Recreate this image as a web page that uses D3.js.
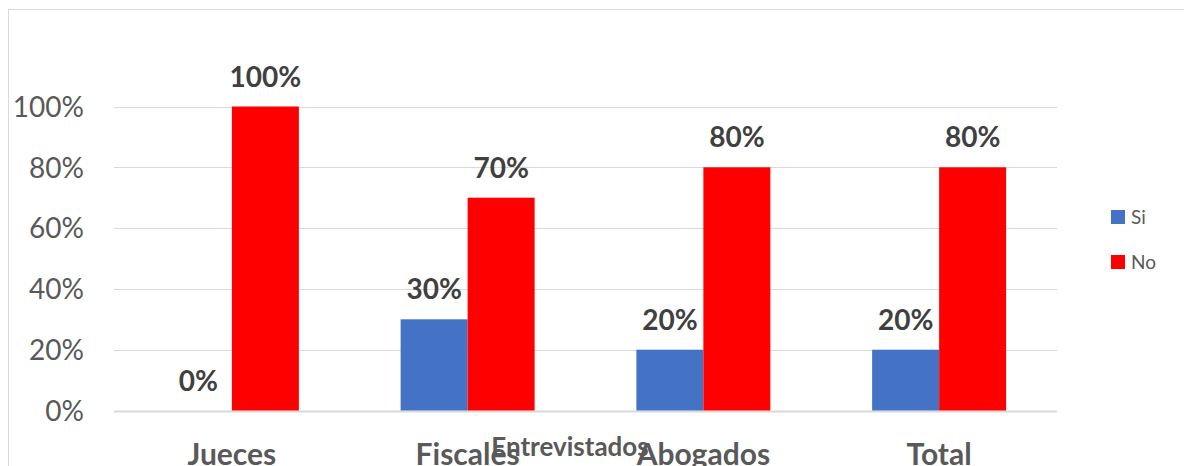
<!DOCTYPE html>
<html><head><meta charset="utf-8">
<script src="https://cdn.jsdelivr.net/npm/d3@7"></script>
<style>body{margin:0;background:#fff;}svg{display:block;}</style>
</head><body>
<svg id="c" width="1184" height="466"></svg>
<script>
const categories = ["Jueces", "Fiscales", "Abogados", "Total"];
const seriesNames = ["Si", "No"];
const siValues = [0, 0.30, 0.20, 0.20];
const noValues = [1.00, 0.70, 0.80, 0.80];
const tickValues = [0, 0.2, 0.4, 0.6, 0.8, 1.0];
const colors = ["#4472C4", "#FF0000"];
const axisTitle = "Entrevistados";

(function () {
const svg = d3.select("#c");
const font = "Lato, 'Open Sans', sans-serif";

// chart border
svg.append("rect").attr("x", 8.5).attr("y", 9.5).attr("width", 1200).attr("height", 500)
  .attr("fill", "#fff").attr("stroke", "#d9d9d9").attr("stroke-width", 1);

const pL = 114, pR = 1057, pT = 106.5, pB = 410.5;
const x = d3.scaleBand().domain(categories).range([pL, pR]);
const xs = d3.scaleBand().domain(seriesNames).range([0, 134]);
const y = d3.scaleLinear().domain([0, 1]).range([pB, pT]);

// gridlines
svg.append("g").selectAll("line").data(tickValues).join("line")
  .attr("x1", pL).attr("x2", pR)
  .attr("y1", d => Math.round(y(d)) + 0.5).attr("y2", d => Math.round(y(d)) + 0.5)
  .attr("stroke", "#d9d9d9").attr("stroke-width", d => d === 0 ? 2 : 1);

// y axis labels
const yAxis = d3.axisLeft(y).tickValues(tickValues).tickFormat(d3.format(".0%")).tickSize(0).tickPadding(0);
const ga = svg.append("g").attr("transform", `translate(84,0)`).call(yAxis);
ga.select(".domain").remove();
ga.selectAll("text").attr("font-family", font).attr("font-size", 28).attr("fill", "#595959").attr("dy", "0.35em");

const data = categories.map((c, i) => ({ c, vals: [siValues[i], noValues[i]] }));
const groups = svg.append("g").selectAll("g").data(data).join("g")
  .attr("transform", d => `translate(${x(d.c) + x.bandwidth() / 2 - 67},0)`);

groups.selectAll("rect").data(d => d.vals.map((v, j) => ({ v, s: seriesNames[j], j }))).join("rect")
  .attr("x", d => xs(d.s)).attr("width", xs.bandwidth())
  .attr("y", d => y(d.v)).attr("height", d => pB - y(d.v))
  .attr("fill", d => colors[d.j]);

groups.selectAll("text").data(d => d.vals.map((v, j) => ({ v, s: seriesNames[j], j }))).join("text")
  .attr("x", d => xs(d.s) + xs.bandwidth() / 2)
  .attr("y", d => y(d.v) - 20)
  .attr("text-anchor", "middle")
  .attr("font-family", font).attr("font-size", 28).attr("font-weight", "bold").attr("fill", "#404040")
  .text(d => d3.format(".0%")(d.v));

// category labels
svg.append("g").selectAll("text").data(categories).join("text")
  .attr("x", d => x(d) + x.bandwidth() / 2).attr("y", 465)
  .attr("text-anchor", "middle")
  .attr("font-family", font).attr("font-size", 30).attr("font-weight", "bold").attr("fill", "#595959")
  .text(d => d);

// axis title
svg.append("text").attr("x", 570).attr("y", 456).attr("text-anchor", "middle")
  .attr("font-family", font).attr("font-size", 26).attr("font-weight", "bold").attr("fill", "#595959")
  .text(axisTitle);

// legend
const lg = svg.append("g").selectAll("g").data(seriesNames).join("g")
  .attr("transform", (d, i) => `translate(1111,${210 + i * 45})`);
lg.append("rect").attr("width", 14).attr("height", 14).attr("fill", (d, i) => colors[i]);
lg.append("text").attr("x", 20).attr("y", 7).attr("dy", "0.35em")
  .attr("font-family", font).attr("font-size", 19).attr("fill", "#595959").text(d => d);
})();
</script>
</body></html>
